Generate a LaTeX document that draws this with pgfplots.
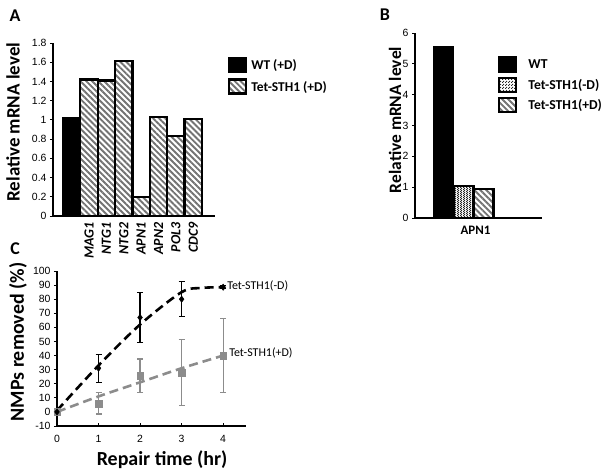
\documentclass[border=0pt]{standalone}
\usepackage{fontspec}
\setmainfont{Carlito}
\newfontfamily\arialf{Liberation Sans}
\usepackage{pgfplots}
\pgfplotsset{compat=1.18}
\usetikzlibrary{patterns,patterns.meta}

\pgfdeclarepatternformonly{finecheck}{\pgfpointorigin}{\pgfqpoint{2.4bp}{2.4bp}}{\pgfqpoint{2.4bp}{2.4bp}}{%
  \pgfpathrectangle{\pgfpointorigin}{\pgfqpoint{1.3bp}{1.3bp}}%
  \pgfpathrectangle{\pgfqpoint{1.2bp}{1.2bp}}{\pgfqpoint{1.3bp}{1.3bp}}%
  \pgfusepath{fill}}

\tikzset{
  hatch/.style={pattern={Lines[angle=-45,distance=4.2bp,line width=1.9bp]}, pattern color=black!55},
}
\pgfplotsset{
  common/.style={
    scale only axis, axis lines=left,
    axis line style={line width=1.6bp, -},
    tick style={black, line width=0.8bp},
    major tick length=3bp,
    tick align=outside,
    tick label style={font=\arialf\fontsize{10.5}{11}\selectfont},
    /pgf/number format/assume math mode=true,
    clip=false,
  },
  legbox/.style={legend image code/.code={\draw[##1, line width=2.2bp] (0bp,-6.5bp) rectangle (17bp,7.5bp);}},
}

\begin{document}
\begin{tikzpicture}
\useasboundingbox (0,0) rectangle (612bp,-476bp);

% ---------------- Panel A ----------------
\begin{axis}[common,
  at={(53bp,-216bp)}, anchor=south west,
  width=162bp, height=173bp,
  xmin=-1.07, xmax=8.25, ymin=0, ymax=1.8,
  ytick={0,0.2,...,1.8},
  yticklabels={0,0.2,0.4,0.6,0.8,1,1.2,1.4,1.6,1.8},
  xtick={1,...,7},
  xticklabels={MAG1,NTG1,NTG2,APN1,APN2,POL3,CDC9},
  xticklabel style={rotate=90, anchor=east, font=\bfseries\itshape\fontsize{14}{14}\selectfont},
  major x tick style={draw=none},
  ylabel={Relative mRNA level},
  ylabel style={at={(axis description cs:-0.247,0.543)}, anchor=center, font=\bfseries\fontsize{19}{20}\selectfont},
  legend style={at={(axis description cs:1.08,0.92)}, anchor=north west, draw=none, fill=none,
     font=\bfseries\fontsize{13.5}{14}\selectfont, row sep=5bp, column sep=2bp, inner sep=0pt,
     nodes={inner sep=2bp}},
  legend cell align=left,
]
\addplot[ybar, bar width=1, bar shift=0, fill=black, draw=black, line width=1bp, legbox] coordinates {(0,1.02)};
\addlegendentry{WT (+D)}
\addplot[ybar, bar width=1, bar shift=0, draw=black, line width=2.2bp, hatch, legbox] coordinates {(1,1.42) (2,1.41) (3,1.61) (4,0.2) (5,1.03) (6,0.83) (7,1.01)};
\addlegendentry{Tet-STH1 (+D)}
\end{axis}

% ---------------- Panel B ----------------
\begin{axis}[common,
  at={(415bp,-218bp)}, anchor=south west,
  width=127bp, height=185bp,
  xmin=-2.43, xmax=3.93, ymin=0, ymax=6,
  ytick={0,...,6},
  xtick={0.6}, xticklabels={APN1},
  xticklabel style={font=\bfseries\fontsize{13}{13}\selectfont, yshift=-2bp},
  major x tick style={draw=none},
  ylabel={Relative mRNA level},
  ylabel style={at={(axis description cs:-0.157,0.53)}, anchor=center, font=\bfseries\fontsize{17.5}{18}\selectfont},
  legend style={at={(axis description cs:0.654,0.875)}, anchor=north west, draw=none, fill=none,
     font=\bfseries\fontsize{13.7}{14}\selectfont, row sep=4bp, column sep=9bp, inner sep=0pt,
     nodes={inner sep=2bp}},
  legend cell align=left,
]
\addplot[ybar, bar width=1, bar shift=0, fill=black, draw=black, line width=1bp, legbox] coordinates {(-1,5.55)};
\addlegendentry{WT}
\addplot[ybar, bar width=1, bar shift=0, draw=black, line width=2.2bp, pattern=finecheck, pattern color=black!85, legbox] coordinates {(0,1.05)};
\addlegendentry{Tet-STH1(-D)}
\addplot[ybar, bar width=1, bar shift=0, draw=black, line width=2.2bp, hatch, legbox] coordinates {(1,0.95)};
\addlegendentry{Tet-STH1(+D)}
\end{axis}

% ---------------- Panel C ----------------
\begin{axis}[common,
  at={(57bp,-426bp)}, anchor=south west,
  width=189bp, height=155bp,
  xmin=0, xmax=4.55, ymin=-10, ymax=100,
  ytick={-10,0,...,100},
  xtick={0,...,4},
  x tick style={/pgfplots/tick align=inside},
  xticklabel style={yshift=-3bp},
  xlabel={Repair time (hr)},
  xlabel style={at={(axis description cs:0.556,-0.219)}, anchor=center, font=\bfseries\fontsize{20}{21}\selectfont},
  ylabel={NMPs removed (\%)},
  ylabel style={at={(axis description cs:-0.206,0.542)}, anchor=center, font=\bfseries\fontsize{20}{21}\selectfont},
]
% trend lines
\addplot[black!45, line width=2.6bp, dash pattern=on 9bp off 5bp, smooth] coordinates {(0,0) (1,11) (2,21) (3,31) (4,40)};
\addplot[black, line width=2.6bp, dash pattern=on 9bp off 5bp, smooth] coordinates {(0,1) (1,33) (2,62) (3,85) (3.5,88) (4,88.5)};
% data with error bars
\addplot[black!45, only marks, mark=square*, mark size=3.3bp,
  error bars/.cd, y dir=both, y explicit,
  error bar style={line width=1.2bp, black!45},
  error mark options={rotate=90, mark size=3bp, line width=1.2bp, black!45}]
  table[x=x, y=y, y error=e] {
x y e
0 0 0
1 6 7.5
2 25.5 12
3 28 23.5
4 40 26.5
};
\addplot[black, only marks, mark=diamond*, mark size=3.2bp,
  error bars/.cd, y dir=both, y explicit,
  error bar style={line width=1.2bp, black},
  error mark options={rotate=90, mark size=3bp, line width=1.2bp, black}]
  table[x=x, y=y, y error=e] {
x y e
0 0 0
1 31 10
2 67 18
3 80 12.5
4 88.5 1
};
\node[anchor=west, font=\fontsize{12}{13}\selectfont, inner sep=1bp] at (axis cs:4.07,89.5) {Tet-STH1(-D)};
\node[anchor=west, font=\fontsize{12}{13}\selectfont, inner sep=1bp] at (axis cs:4.12,42) {Tet-STH1(+D)};
\end{axis}

% panel letters
\node[font=\bfseries\fontsize{18}{18}\selectfont] at (15bp,-16bp) {A};
\node[font=\bfseries\fontsize{18}{18}\selectfont] at (385bp,-15bp) {B};
\node[font=\bfseries\fontsize{18}{18}\selectfont] at (15bp,-249bp) {C};
\end{tikzpicture}
\end{document}
